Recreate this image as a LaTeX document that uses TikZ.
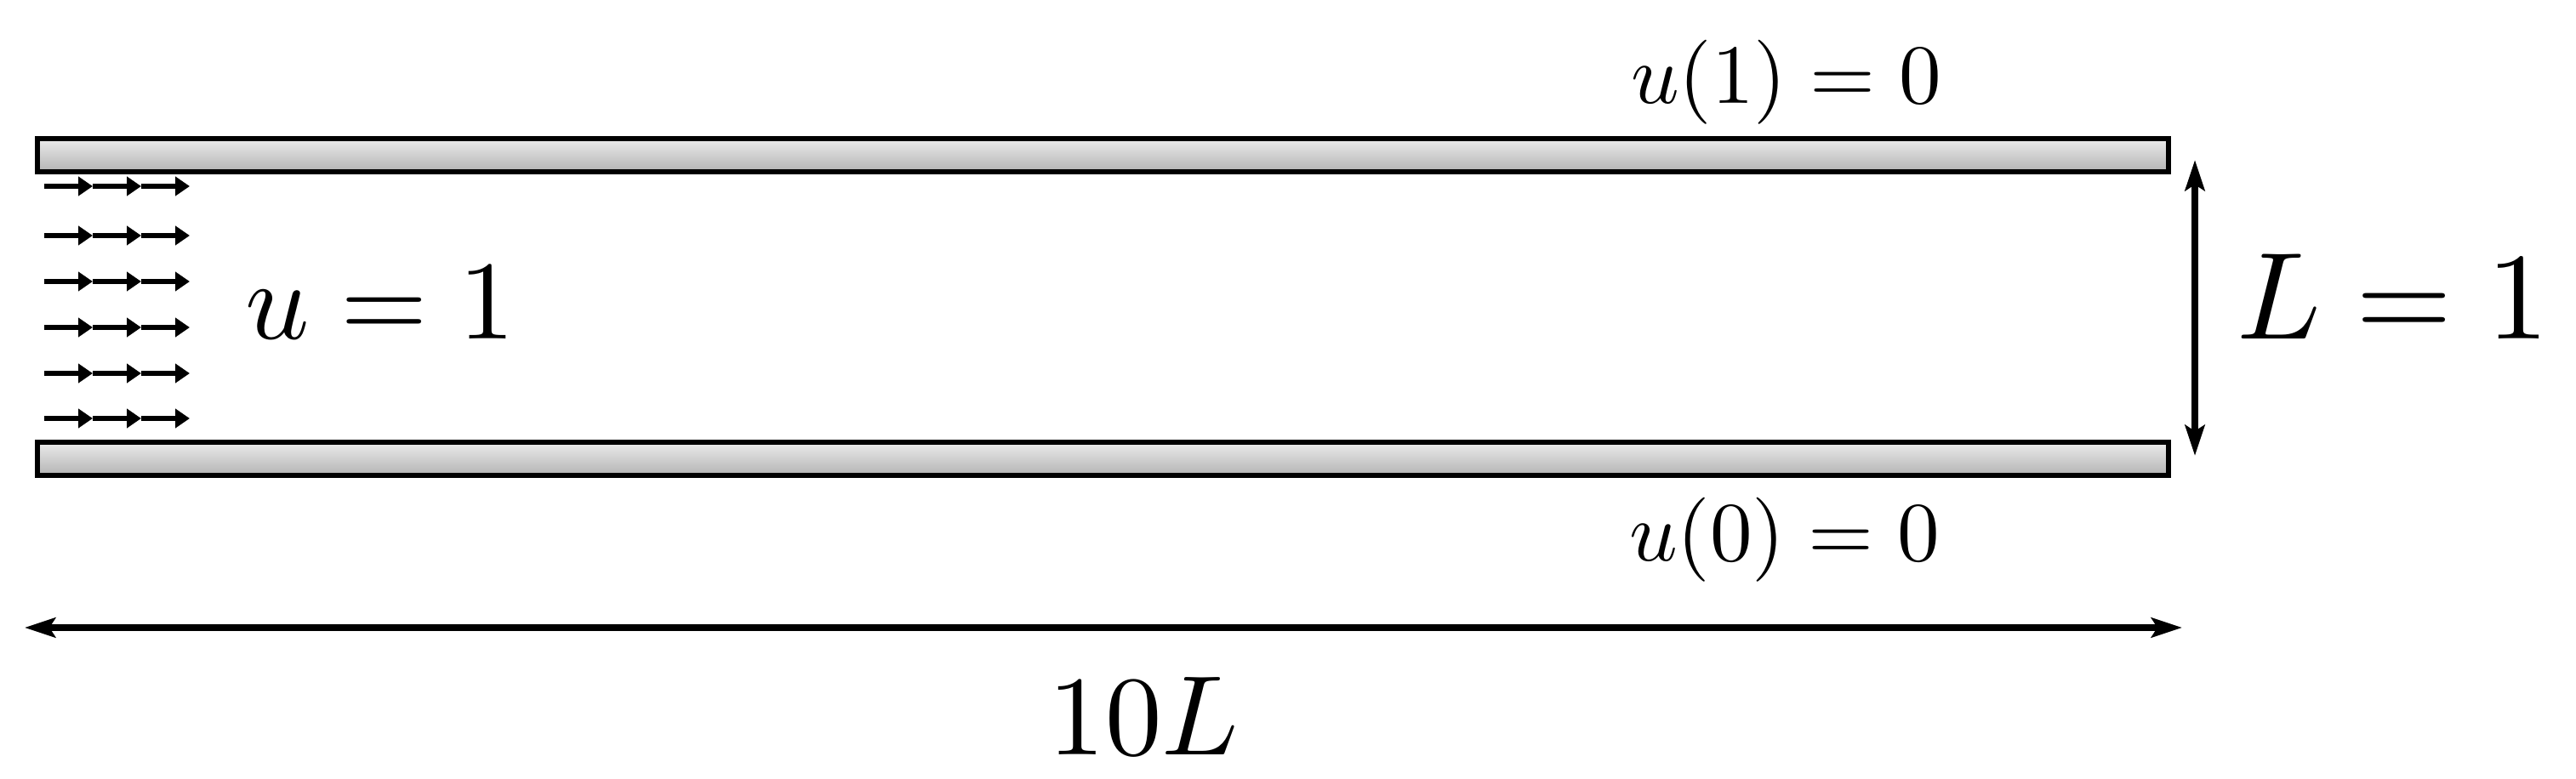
\documentclass[tikz,border=0pt]{standalone}
\usetikzlibrary{arrows.meta,positioning}
\tikzset{
  wall/.style={draw=black, line width=0.06cm, top color=black!8, bottom color=black!30, minimum width=25.05cm, minimum height=0.39cm, inner sep=0pt, outer sep=0pt},
  flow_arrow/.style={line width=0.055cm, -{Triangle[length=0.17cm, width=0.22cm]}},
  dim_arrow/.style={line width=0.085cm, {Stealth[length=0.36cm, width=0.23cm, inset=0.07cm]}-{Stealth[length=0.36cm, width=0.23cm, inset=0.07cm]}},
  big_label/.style={anchor=base west, inner sep=0pt, scale=3.75},
  wall_label/.style={anchor=base west, inner sep=0pt, scale=2.82},
}

\begin{document}
\begin{tikzpicture}
      \useasboundingbox (0,0) rectangle (30.28,9.15);
      \node (top_wall) [wall] at (12.96,7.32) {};
      \node (bottom_wall) [wall, below=3.18cm of top_wall] {};
      \foreach \y [count=\r] in {6.96,6.38,5.84,5.30,4.76,4.23}
        \foreach \x [count=\c] in {0.52,1.09,1.66} {
          \coordinate (flow_start_\r_\c) at (\x,\y);
          \coordinate (flow_end_\r_\c) at (\x+0.57,\y);
          \draw [flow_arrow] (flow_start_\r_\c) -- (flow_end_\r_\c);
        }
      \node (inlet) [big_label] at (2.86,5.16) {$u=1$};
      \node (height) [big_label, scale=1.105] at (26.27,5.16) {$L=1$};
      \node (top_bc) [wall_label] at (19.15,7.93) {$u(1)=0$};
      \node (bottom_bc) [wall_label] at (19.13,2.55) {$u(0)=0$};
      \node (length) [big_label, scale=1.01] at (12.30,0.28) {$10L$};
      \coordinate (height_top) at (25.80,7.27);
      \coordinate (height_bottom) at (25.80,3.79);
      \draw [dim_arrow] (height_top) -- (height_bottom);
      \coordinate (length_left) at (0.29,1.77);
      \coordinate (length_right) at (25.65,1.77);
      \draw [dim_arrow] (length_left) -- (length_right);
    \end{tikzpicture}
\end{document}
